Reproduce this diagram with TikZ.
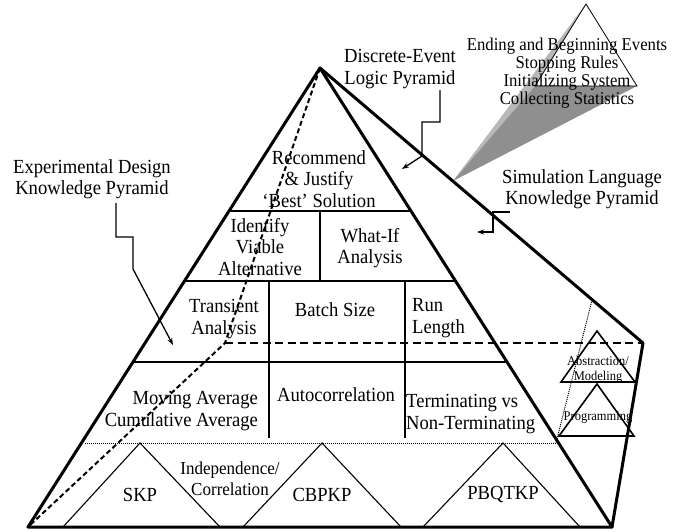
\documentclass[tikz,border=0pt]{standalone}
\usepackage{fontspec}
\setmainfont[FakeStretch=0.93]{Liberation Serif}
\usetikzlibrary{arrows.meta}
\definecolor{beamlight}{HTML}{B8B8B8}
\definecolor{beamdark}{HTML}{8F8F8F}
\begin{document}
\begin{tikzpicture}[x=1pt,y=-1pt,
  edge/.style={line width=3pt, line cap=round, line join=round},
  rowline/.style={line width=2.2pt},
  colline/.style={line width=1.5pt},
  hidden/.style={line width=2pt, dash pattern=on 5pt off 3pt},
  hiddenrow/.style={line width=2.5pt, dash pattern=on 8pt off 4.5pt},
  dotline/.style={line width=1pt, dash pattern=on 1pt off 1pt},
  thinline/.style={line width=1.1pt},
  smalltri/.style={line width=1.6pt, line join=miter},
  lbl/.style={inner sep=0pt, align=center, font=\fontsize{20}{21.5}\selectfont},
  ptr/.style={line width=1.3pt, -{Stealth[length=7pt,width=5pt]}},
]
\useasboundingbox (0,0) rectangle (675,531);

% main pyramid corners
\coordinate (apex) at (320,68);
\coordinate (bl) at (28,527);
\coordinate (br) at (612,527);
\coordinate (bk) at (643,343);
\coordinate (hk) at (225,343);

% beam towards the small pyramid
\coordinate (src) at (453,181);
\coordinate (ta) at (586,4);
\coordinate (tl) at (535,86);
\coordinate (tr) at (637,86);
\fill[beamlight] (src) -- (ta) -- (tl) -- cycle;
\fill[beamdark] (src) -- (tl) -- (tr) -- cycle;
\draw[line width=0.8pt] (ta) -- (tl) -- (tr) -- cycle;

% hidden edges
\draw[hidden] (apex) -- (hk) -- (bl);
\draw[hiddenrow] (hk) -- (bk);

% rows
\draw[rowline] (229,211) -- (411,211);
\draw[rowline] (184.5,281) -- (455.5,281);
\draw[rowline] (133,362) -- (507,362);
\draw[dotline] (85,443) -- (556,443);

% columns
\draw[colline] (320,211) -- (320,281);
\draw[colline] (269,281) -- (269,438);
\draw[colline] (405,281) -- (405,438);

% dotted line on right face
\draw[dotline] (592,300) -- (556,443);

% base triangles
\draw[thinline] (63,527) -- (140,443) -- (220,527);
\draw[thinline] (243,527) -- (322,443) -- (401,527);
\draw[thinline] (423,527) -- (503,443) -- (580,527);

% small triangles on right face
\draw[smalltri] (561,382) -- (597,331) -- (635,382) -- cycle;
\draw[smalltri] (559,436) -- (597,384) -- (634,436) -- cycle;

% pyramid outline
\draw[edge] (bl) -- (apex) -- (br) -- cycle;
\draw[edge] (apex) -- (bk) -- (br);

% labels
\node[lbl] (dlp) at (400,69) {Discrete-Event\\Logic Pyramid};
\node[lbl, font=\fontsize{18}{18}\selectfont] (steps) at (567,73) {Ending and Beginning Events\\Stopping Rules\\Initializing System\\Collecting Statistics};
\node[lbl] (slk) at (582,189) {Simulation Language\\Knowledge Pyramid};
\node[lbl] (edk) at (92,179) {Experimental Design\\Knowledge Pyramid};
\node[lbl] (rec) at (319,179) {Recommend\\\& Justify\\‘Best’ Solution};
\node[lbl] (iva) at (260,247) {Identify\\Viable\\Alternative};
\node[lbl] (wia) at (370,248) {What-If\\Analysis};
\node[lbl] (tra) at (224,319) {Transient\\Analysis};
\node[lbl] (bs) at (335,310) {Batch Size};
\node[lbl, align=left, anchor=west] (rl) at (412,318) {Run\\Length};
\node[lbl, align=right, anchor=east] (ma) at (258,411) {Moving Average\\Cumulative Average};
\node[lbl] (ac) at (336,395) {Autocorrelation};
\node[lbl, align=left, anchor=west] (tvn) at (406,414) {Terminating vs\\Non-Terminating};
\node[lbl] (skp) at (140,495) {SKP};
\node[lbl, font=\fontsize{18.3}{21}\selectfont] (ic) at (230,479) {Independence/\\Correlation};
\node[lbl] (cb) at (322,495) {CBPKP};
\node[lbl] (pb) at (503,494) {PBQTKP};
\node[lbl, font=\fontsize{13.4}{15}\selectfont] (am) at (598,370) {Abstraction/\\Modeling};
\node[lbl, font=\fontsize{13.4}{15}\selectfont] (pr) at (598,418) {Programming};

% pointers
\coordinate (d0) at (440,90);
\coordinate (d1) at (440,122);
\coordinate (d2) at (422,122);
\coordinate (d3) at (422,156);
\coordinate (d4) at (402,169);
\draw[ptr] (d0) -- (d1) -- (d2) -- (d3) -- (d4);

\coordinate (s0) at (510,212);
\coordinate (s1) at (493,212);
\coordinate (s2) at (493,232);
\coordinate (s3) at (477,232);
\draw[ptr] (s0) -- (s1) -- (s2) -- (s3);

\coordinate (e0) at (116,203);
\coordinate (e1) at (116,237);
\coordinate (e2) at (133,237);
\coordinate (e3) at (133,269);
\coordinate (e4) at (173,345);
\draw[ptr] (e0) -- (e1) -- (e2) -- (e3) -- (e4);
\end{tikzpicture}
\end{document}
